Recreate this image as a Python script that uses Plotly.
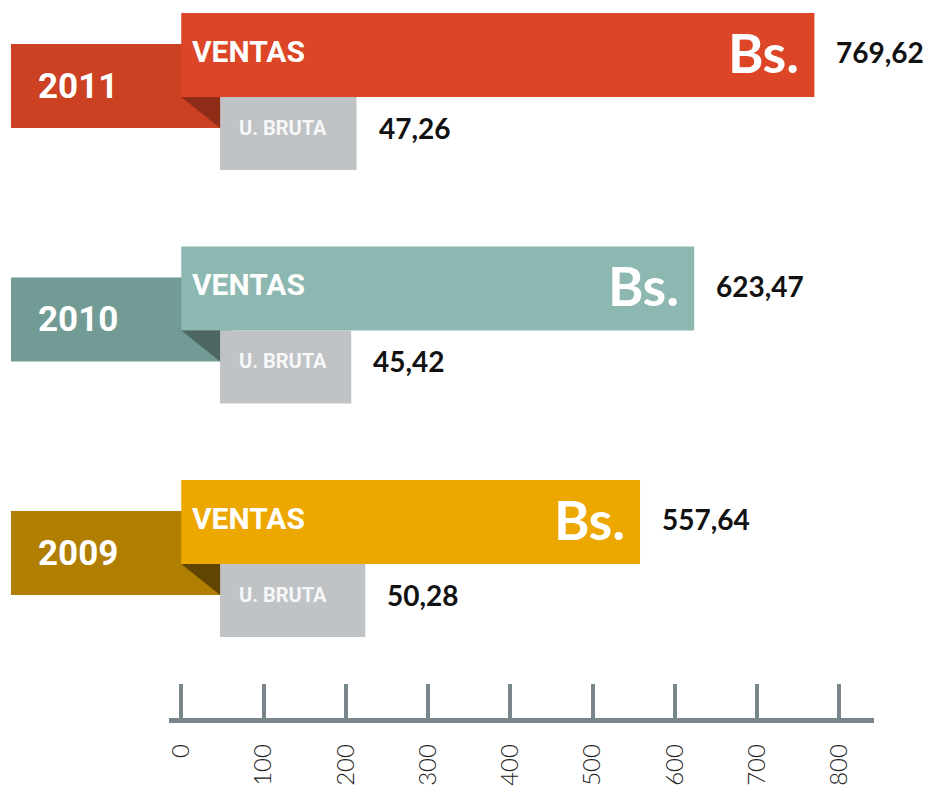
import plotly.graph_objects as go

# ---------------- data ----------------
years = ["2009", "2010", "2011"]
ventas = [557.64, 623.47, 769.62]
ventas_labels = ["557,64", "623,47", "769,62"]
utilidad = [50.28, 45.42, 47.26]
utilidad_labels = ["50,28", "45,42", "47,26"]
tick_vals = [0, 100, 200, 300, 400, 500, 600, 700, 800]
tick_text = ["0", "100", "200", "300", "400", "500", "600", "700", "800"]

ventas_colors = ["#EDA800", "#8CB8B1", "#DC4626"]
tab_colors = ["#B07E00", "#719B94", "#CB4122"]
fold_colors = ["#5F4500", "#4E6763", "#8E2C18"]
ub_color = "#BFC3C6"
axis_color = "#78868C"

# ---------------- geometry (styling) ----------------
W, H = 938, 787
PX0, PXU = 178.0, 0.82625        # pixel of ventas 0, px per unit
PX0U, PXUU = 217.0, 2.9          # pixel of utilidad 0, px per unit (infographic scale)
UNIT_Y = 233.5                   # px per group
Y0_PX = 522.0                    # pixel of first group's centre

x_range = [-PX0 / PXU, (W - PX0) / PXU]
x3_range = [-PX0U / PXUU, (W - PX0U) / PXUU]
y_range = [(Y0_PX - H) / UNIT_Y, Y0_PX / UNIT_Y]

V_W = 84 / UNIT_Y
TAB_OFF = 31 / UNIT_Y
UB_OFF = 78.5 / UNIT_Y
UB_W = 73 / UNIT_Y

idx = list(range(len(years)))
y_v = [i for i in idx]
y_tab = [i - TAB_OFF for i in idx]
y_ub = [i - UB_OFF for i in idx]

tab_base = (7 - PX0) / PXU
tab_len = (230 - PX0) / PXU - tab_base

fig = go.Figure()

# tabs (behind)
fig.add_trace(go.Bar(
    y=y_tab, x=[tab_len] * len(idx), base=[tab_base] * len(idx), orientation="h",
    width=V_W, marker=dict(color=tab_colors, line=dict(width=0)),
    hoverinfo="skip", showlegend=False))

# ventas
fig.add_trace(go.Bar(
    y=y_v, x=ventas, orientation="h", width=V_W,
    marker=dict(color=ventas_colors, line=dict(width=0)),
    hoverinfo="skip", showlegend=False))

# utilidad bruta (own infographic scale)
fig.add_trace(go.Bar(
    y=y_ub, x=utilidad, orientation="h", width=UB_W,
    marker=dict(color=ub_color, line=dict(width=0)),
    xaxis="x3", yaxis="y", hoverinfo="skip", showlegend=False))

# invisible trace for the scale axis
fig.add_trace(go.Scatter(
    x=tick_vals, y=[0] * len(tick_vals), mode="markers",
    marker=dict(opacity=0), xaxis="x2", yaxis="y2",
    hoverinfo="skip", showlegend=False))

annotations = []
shapes = []
vent_left_x3 = (PX0 - PX0U) / PXUU
for i in idx:
    annotations.append(dict(
        text="VENTAS", xref="x", yref="y", x=0, y=y_v[i], xanchor="left",
        yanchor="middle", xshift=9, yshift=4, showarrow=False,
        font=dict(family="Roboto", size=30, color="white", weight="bold")))
    annotations.append(dict(
        text="Bs.", xref="x", yref="y", x=ventas[i], y=y_v[i], xanchor="right",
        yanchor="middle", xshift=-13, yshift=3, showarrow=False,
        font=dict(family="Lato", size=54, color="white", weight="bold")))
    annotations.append(dict(
        text=ventas_labels[i], xref="x", yref="y", x=ventas[i], y=y_v[i],
        xanchor="left", yanchor="middle", xshift=20, yshift=3, showarrow=False,
        font=dict(family="Lato", size=28, color="#111111", weight="bold")))
    annotations.append(dict(
        text=years[i], xref="x", yref="y", x=tab_base, y=y_tab[i],
        xanchor="left", yanchor="middle", xshift=25, yshift=0, showarrow=False,
        font=dict(family="Roboto", size=35, color="white", weight="bold")))
    annotations.append(dict(
        text="U. BRUTA", xref="x3", yref="y", x=0, y=y_ub[i],
        xanchor="left", yanchor="middle", xshift=17, yshift=6, showarrow=False,
        font=dict(family="Roboto", size=20, color="#F7F7F7", weight="bold")))
    annotations.append(dict(
        text=utilidad_labels[i], xref="x3", yref="y", x=utilidad[i], y=y_ub[i],
        xanchor="left", yanchor="middle", xshift=20, yshift=6, showarrow=False,
        font=dict(family="Lato", size=28, color="#111111", weight="bold")))
    yb = y_v[i] - V_W / 2
    yt = y_tab[i] - V_W / 2
    shapes.append(dict(
        type="path", xref="x3", yref="y", layer="above",
        path=f"M {vent_left_x3},{yb} L 0,{yb} L 0,{yt} Z",
        fillcolor=fold_colors[i], line=dict(width=0)))

axis_px = 717.5
fig.update_layout(
    width=W, height=H,
    margin=dict(l=0, r=0, t=0, b=0),
    paper_bgcolor="white", plot_bgcolor="rgba(0,0,0,0)",
    barmode="overlay",
    xaxis=dict(domain=[0, 1], range=x_range, visible=False, fixedrange=True),
    xaxis3=dict(overlaying="x", range=x3_range, visible=False, fixedrange=True, anchor="y"),
    yaxis=dict(domain=[0, 1], range=y_range, visible=False, fixedrange=True),
    xaxis2=dict(
        domain=[166 / W, 874 / W], anchor="y2",
        range=[(166 - PX0) / PXU, (874 - PX0) / PXU],
        tickvals=tick_vals, ticktext=tick_text, tickangle=-90,
        ticks="inside", ticklen=34, tickwidth=4, tickcolor=axis_color,
        showline=True, linewidth=5, linecolor=axis_color,
        showgrid=False, zeroline=False, ticklabelstandoff=12,
        tickfont=dict(family="Lato", size=24, color="#222222", weight=300),
        fixedrange=True),
    yaxis2=dict(domain=[1 - axis_px / H, 1 - 600 / H], anchor="x2", range=[0, 1],
                visible=False, fixedrange=True),
    annotations=annotations,
    shapes=shapes,
)

fig.write_html(
    "out.html",
    config={"displayModeBar": False},
    post_script="document.body.style.margin='0';document.body.style.overflow='hidden';",
)
